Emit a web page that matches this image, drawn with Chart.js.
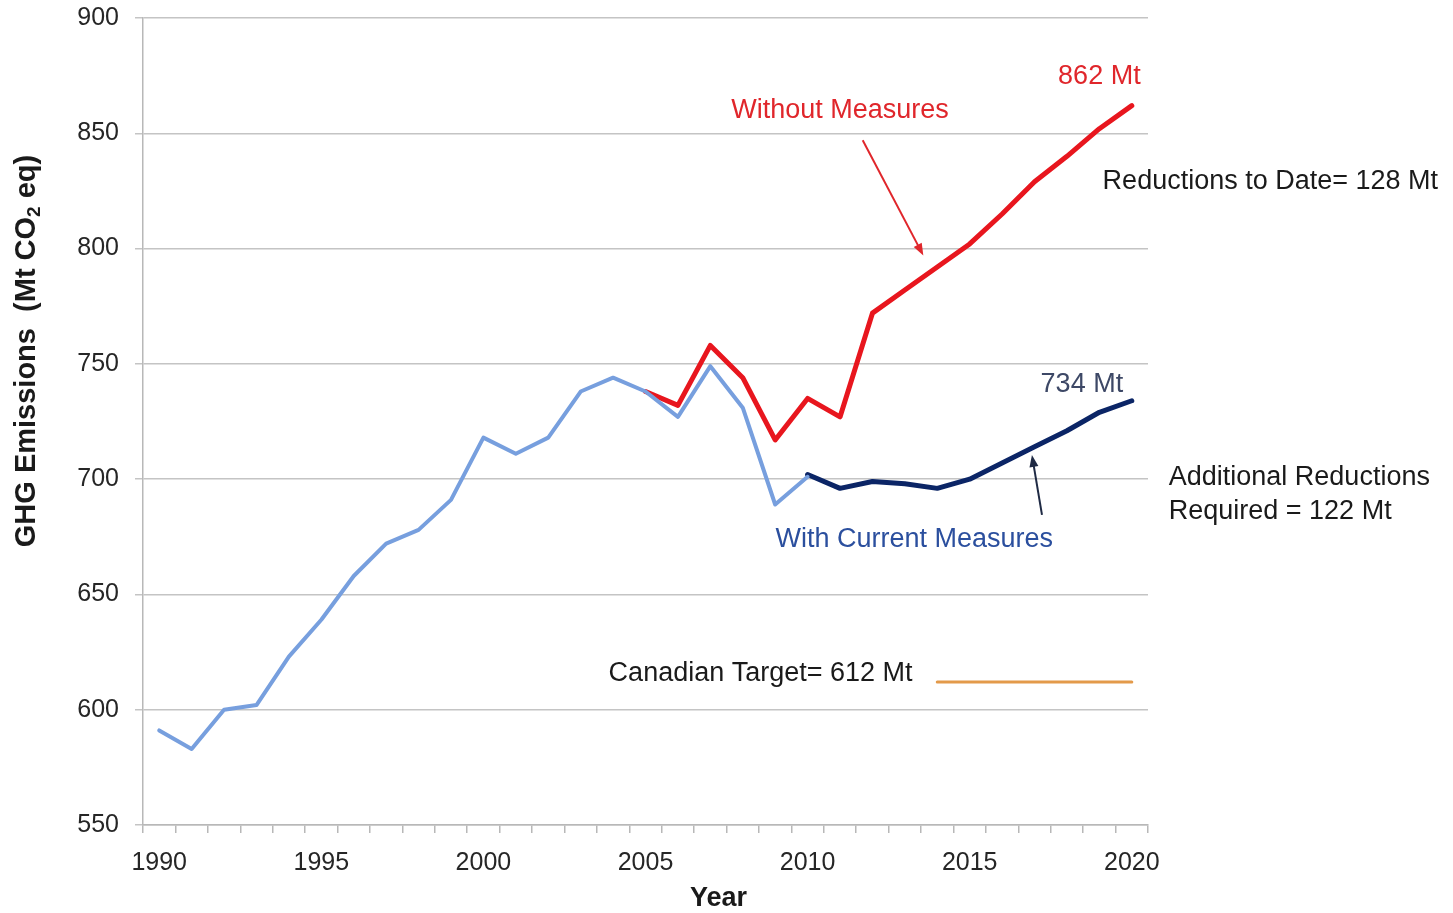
<!DOCTYPE html>
<html>
<head>
<meta charset="utf-8">
<script src="https://cdn.jsdelivr.net/npm/chart.js@4.4.1/dist/chart.umd.min.js"></script>
<style>
  body { margin: 0; background: #fff; }
  canvas { display: block; }
</style>
</head>
<body>
<canvas id="chart" width="1453" height="913"></canvas>
<script>
const years = [];
for (let y = 1990; y <= 2020; y++) years.push(String(y));

// historical emissions 1990-2010
const historical = [591, 583, 600, 602, 623, 639, 658, 672, 678, 691, 718, 711, 718, 738, 744, 738, 727, 749, 731, 689, 701];
// projection without measures 2005-2020
const withoutMeasures = [738, 732, 758, 744, 717, 735, 727, 772, 782, 792, 802, 815, 829, 840, 852, 862];
// projection with current measures 2010-2020
const withMeasures = [702, 696, 699, 698, 696, 700, 707, 714, 721, 729, 734];
// Canadian target 2014-2020
const target = [612, 612, 612, 612, 612, 612, 612];

function place(values, startYear) {
  return years.map(y => {
    const i = Number(y) - startYear;
    return i >= 0 && i < values.length ? values[i] : null;
  });
}

const FONT = "'Liberation Sans', Arial, sans-serif";

const notes = {
  id: "notes",
  afterDraw(chart) {
    const ctx = chart.ctx;
    const xs = chart.scales.x, ys = chart.scales.y;
    const px = yr => xs.getPixelForValue(yr - 1990);
    const py = v => ys.getPixelForValue(v);

    function text(str, yr, v, color, align) {
      ctx.fillStyle = color;
      ctx.textAlign = align || "center";
      ctx.textBaseline = "middle";
      ctx.fillText(str, px(yr), py(v));
    }
    function arrow(x1, y1, x2, y2, color) {
      const ax = px(x1), ay = py(y1), bx = px(x2), by = py(y2);
      const ang = Math.atan2(by - ay, bx - ax);
      ctx.strokeStyle = color;
      ctx.fillStyle = color;
      ctx.lineWidth = 2;
      ctx.beginPath();
      ctx.moveTo(ax, ay);
      ctx.lineTo(bx - 8 * Math.cos(ang), by - 8 * Math.sin(ang));
      ctx.stroke();
      ctx.beginPath();
      ctx.moveTo(bx, by);
      ctx.lineTo(bx - 12 * Math.cos(ang) + 4.5 * Math.sin(ang), by - 12 * Math.sin(ang) - 4.5 * Math.cos(ang));
      ctx.lineTo(bx - 12 * Math.cos(ang) - 4.5 * Math.sin(ang), by - 12 * Math.sin(ang) + 4.5 * Math.cos(ang));
      ctx.closePath();
      ctx.fill();
    }

    ctx.save();
    ctx.font = "27px " + FONT;
    text("Without Measures", 2011, 860, "#e0262b");
    text("862 Mt", 2019, 874.5, "#e0262b");
    text("Reductions to Date= 128 Mt", 2019.1, 829, "#1a1a1a", "left");
    text("734 Mt", 2018.46, 741, "#3d4866");
    text("Additional Reductions", 2021.14, 700.5, "#1a1a1a", "left");
    text("Required = 122 Mt", 2021.14, 686, "#1a1a1a", "left");
    text("With Current Measures", 2013.29, 673.6, "#2b4f9e");
    text("Canadian Target= 612 Mt", 2008.55, 615.5, "#1a1a1a");

    arrow(2011.7, 847, 2013.57, 797, "#e0262b");
    arrow(2017.23, 684.5, 2016.92, 710.5, "#1f2a44");

    // axis titles
    ctx.fillStyle = "#1a1a1a";
    ctx.font = "bold 27px " + FONT;
    ctx.textAlign = "center";
    ctx.textBaseline = "middle";
    ctx.fillText("Year", px(2007.25), 899);

    ctx.translate(27, 351);
    ctx.rotate(-Math.PI / 2);
    const a = "GHG Emissions  (Mt CO", b = " eq)";
    ctx.font = "bold 29px " + FONT;
    const wa = ctx.measureText(a).width, wb = ctx.measureText(b).width;
    ctx.font = "bold 19px " + FONT;
    const ws = ctx.measureText("2").width;
    let x0 = -(wa + ws + wb) / 2;
    ctx.textAlign = "left";
    ctx.font = "bold 29px " + FONT;
    ctx.fillText(a, x0, 0);
    ctx.font = "bold 19px " + FONT;
    ctx.fillText("2", x0 + wa, 8);
    ctx.font = "bold 29px " + FONT;
    ctx.fillText(b, x0 + wa + ws, 0);
    ctx.restore();
  }
};

new Chart(document.getElementById("chart"), {
  type: "line",
  data: {
    labels: years,
    datasets: [
      { data: place(target, 2014), borderColor: "#e39a4a", borderWidth: 3 },
      { data: place(historical, 1990), borderColor: "#779fde", borderWidth: 4 },
      { data: place(withoutMeasures, 2005), borderColor: "#e8161e", borderWidth: 5 },
      { data: place(withMeasures, 2010), borderColor: "#0b2566", borderWidth: 5 }
    ]
  },
  options: {
    responsive: false,
    animation: false,
    layout: { padding: { top: 18, right: 305 } },
    elements: {
      point: { radius: 0 },
      line: { tension: 0, borderCapStyle: "round", borderJoinStyle: "round" }
    },
    plugins: { legend: { display: false }, tooltip: { enabled: false } },
    scales: {
      x: {
        type: "category",
        offset: true,
        grid: { offset: true, drawOnChartArea: false, color: "#b8b8b8", tickLength: 8, lineWidth: 1.5 },
        border: { color: "#b8b8b8", width: 1.5 },
        ticks: {
          autoSkip: false,
          maxRotation: 0,
          padding: 15,
          color: "#262626",
          font: { family: FONT, size: 25 },
          callback: function (v) { const y = Number(this.getLabelForValue(v)); return y % 5 === 0 ? String(y) : ""; }
        },
        afterFit: s => { s.height = 88; s.paddingLeft = 0; s.paddingRight = 0; }
      },
      y: {
        min: 550,
        max: 900,
        ticks: { stepSize: 50, padding: 16, color: "#262626", font: { family: FONT, size: 25 } },
        grid: { color: "#c4c4c4", lineWidth: 1.5, tickLength: 8 },
        border: { color: "#b8b8b8", width: 1.5 },
        afterFit: s => { s.width = 143; s.paddingTop = 0; s.paddingBottom = 0; }
      }
    }
  },
  plugins: [notes]
});
</script>
</body>
</html>
